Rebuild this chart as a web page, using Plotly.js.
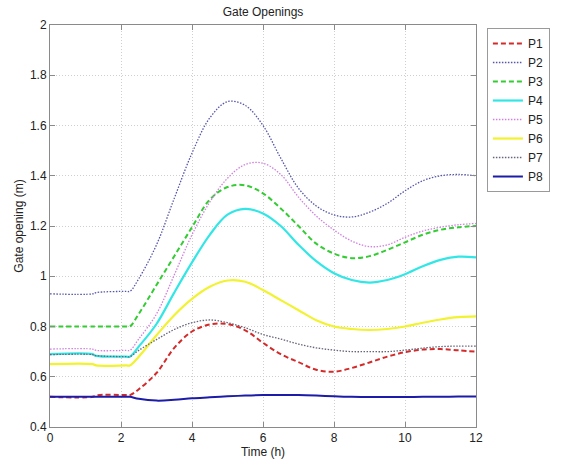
<!DOCTYPE html>
<html>
<head>
<meta charset="utf-8">
<script src="https://cdn.plot.ly/plotly-3.0.1.min.js"></script>
<style>html,body{margin:0;padding:0;background:#fff;}#chart{width:562px;height:466px;}</style>
</head>
<body>
<div id="chart"></div>
<script>
// Time (h)
var time = [0, 1.2, 1.3, 2.15, 2.25, 2.5, 3, 3.5, 4, 4.5, 5, 5.5, 6, 6.5, 7, 7.5, 8, 8.5, 9, 9.5, 10, 10.5, 11, 11.5, 12];

// Gate openings (m)
var P1 = [0.52, 0.52, 0.526, 0.527, 0.527, 0.55, 0.615, 0.715, 0.78, 0.808, 0.81, 0.785, 0.735, 0.69, 0.658, 0.628, 0.62, 0.635, 0.657, 0.68, 0.698, 0.708, 0.71, 0.705, 0.70];
var P2 = [0.93, 0.93, 0.935, 0.94, 0.94, 0.99, 1.125, 1.31, 1.49, 1.63, 1.695, 1.68, 1.60, 1.47, 1.35, 1.28, 1.244, 1.236, 1.255, 1.29, 1.34, 1.38, 1.40, 1.405, 1.40];
var P3 = [0.80, 0.80, 0.80, 0.80, 0.80, 0.85, 0.965, 1.08, 1.195, 1.305, 1.355, 1.362, 1.33, 1.27, 1.20, 1.13, 1.09, 1.072, 1.08, 1.105, 1.135, 1.165, 1.185, 1.195, 1.20];
var P4 = [0.69, 0.69, 0.683, 0.68, 0.68, 0.72, 0.81, 0.935, 1.055, 1.165, 1.245, 1.268, 1.25, 1.20, 1.125, 1.06, 1.012, 0.985, 0.975, 0.985, 1.008, 1.04, 1.065, 1.078, 1.075];
var P5 = [0.71, 0.71, 0.705, 0.705, 0.705, 0.75, 0.85, 1.005, 1.165, 1.295, 1.39, 1.445, 1.45, 1.405, 1.315, 1.24, 1.184, 1.14, 1.118, 1.125, 1.155, 1.18, 1.195, 1.205, 1.21];
var P6 = [0.65, 0.65, 0.645, 0.645, 0.645, 0.68, 0.765, 0.845, 0.91, 0.958, 0.983, 0.978, 0.945, 0.905, 0.865, 0.825, 0.80, 0.79, 0.786, 0.79, 0.80, 0.815, 0.828, 0.837, 0.84];
var P7 = [0.688, 0.688, 0.684, 0.68, 0.68, 0.705, 0.748, 0.788, 0.815, 0.826, 0.815, 0.795, 0.768, 0.75, 0.73, 0.715, 0.706, 0.70, 0.70, 0.70, 0.706, 0.714, 0.72, 0.722, 0.722];
var P8 = [0.52, 0.52, 0.52, 0.52, 0.52, 0.512, 0.505, 0.508, 0.514, 0.518, 0.522, 0.525, 0.527, 0.527, 0.527, 0.525, 0.522, 0.52, 0.519, 0.519, 0.519, 0.52, 0.52, 0.521, 0.521];

var names = ['P1', 'P2', 'P3', 'P4', 'P5', 'P6', 'P7', 'P8'];
var series = [P1, P2, P3, P4, P5, P6, P7, P8];
var colors = ['#d42a2a', '#5656aa', '#33cc33', '#33e6e6', '#d080e0', '#f2f230', '#66667a', '#1c1ca8'];
var dashes = ['5px,3px', '1.5px,1.5px', '5px,3px', 'solid', '1.5px,1.5px', 'solid', '1.5px,1.5px', 'solid'];
var widths = [2, 1.3, 2, 2.2, 1.3, 2.2, 1.3, 2];

var traces = series.map(function (s, i) {
  return {
    x: time, y: s, name: names[i], type: 'scatter', mode: 'lines',
    line: {color: colors[i], dash: dashes[i], width: widths[i], shape: 'spline', smoothing: 1}
  };
});

var axisCommon = {
  showline: true, linecolor: '#8a8a8a', linewidth: 1, mirror: 'ticks',
  ticks: 'inside', ticklen: 5, tickcolor: '#8a8a8a',
  showgrid: true, gridcolor: '#cfcfcf', griddash: '1px,2px', gridwidth: 1,
  zeroline: false, tickfont: {family: 'Liberation Sans, Arial, sans-serif', size: 12, color: '#222'}
};

var layout = {
  width: 562, height: 466,
  margin: {l: 50, r: 82, t: 25, b: 39},
  paper_bgcolor: '#fff', plot_bgcolor: '#fff',
  font: {family: 'Liberation Sans, Arial, sans-serif', size: 12, color: '#222'},
  title: {text: 'Gate Openings', font: {size: 12, color: '#222'}, x: 0.5, xref: 'paper', y: 1 - 12 / 466, yref: 'container', yanchor: 'middle'},
  xaxis: Object.assign({}, axisCommon, {range: [0, 12], dtick: 2, tick0: 0,
    title: {text: 'Time (h)', font: {size: 12, color: '#222'}, standoff: 2}}),
  yaxis: Object.assign({}, axisCommon, {range: [0.4, 2], dtick: 0.2, tick0: 0.4,
    title: {text: 'Gate opening (m)', font: {size: 12, color: '#222'}, standoff: 3}}),
  showlegend: true,
  legend: {x: 1.0256, xanchor: 'left', y: 0.9925, yanchor: 'top',
    bgcolor: '#fff', bordercolor: '#9a9a9a', borderwidth: 1,
    font: {size: 12, color: '#222'}, tracegroupgap: 0}
};

Plotly.newPlot('chart', traces, layout, {displayModeBar: false, staticPlot: true});
</script>
</body>
</html>
